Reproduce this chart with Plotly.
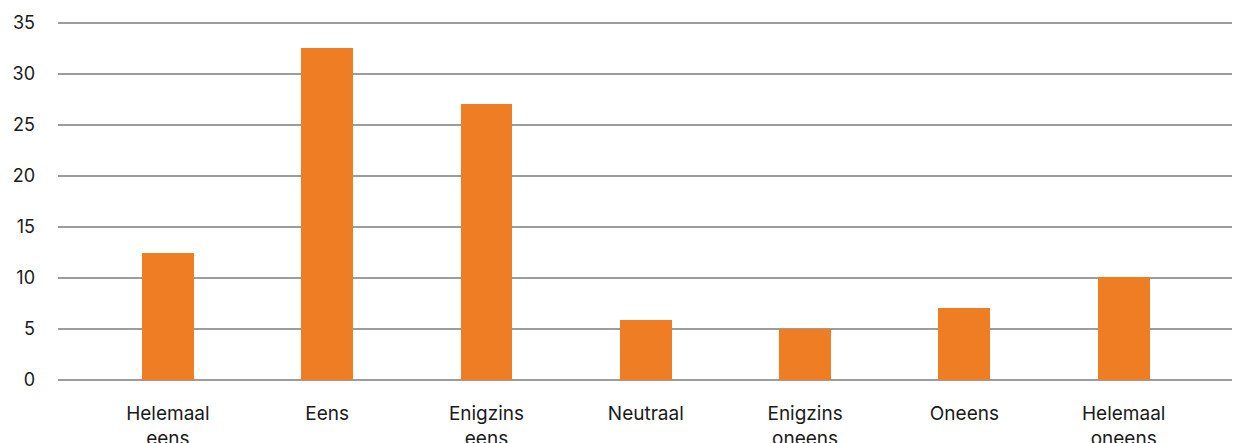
import plotly.graph_objects as go

categories = ["Helemaal<br>eens", "Eens", "Enigzins<br>eens", "Neutraal",
              "Enigzins<br>oneens", "Oneens", "Helemaal<br>oneens"]
values = [12.5, 32.6, 27.1, 5.9, 5.0, 7.1, 10.1]
y_ticks = [0, 5, 10, 15, 20, 25, 30, 35]

BAR_COLOR = "#EE7D23"
GRID_COLOR = "#9B9BA0"
TEXT_COLOR = "#1A1A1A"
FONT = "Inter, Roboto, Arial, sans-serif"

fig = go.Figure(
    go.Bar(
        x=list(range(len(categories))),
        y=values,
        width=0.326,
        marker=dict(color=BAR_COLOR, line=dict(width=0)),
        hoverinfo="skip",
    )
)

fig.update_layout(
    width=1240,
    height=443,
    margin=dict(l=58, r=8, t=20, b=63),
    paper_bgcolor="white",
    plot_bgcolor="white",
    showlegend=False,
    font=dict(family=FONT, size=19, color=TEXT_COLOR),
    bargap=0,
)

fig.update_xaxes(
    range=[-0.69, 6.68],
    tickmode="array",
    tickvals=list(range(len(categories))),
    ticktext=categories,
    showgrid=False,
    zeroline=False,
    showline=False,
    ticks="",
    automargin=False,
    ticklabelstandoff=20,
    tickfont=dict(family=FONT, size=19, color=TEXT_COLOR),
)

fig.update_yaxes(
    range=[0, 35.3],
    tickmode="array",
    tickvals=y_ticks,
    ticktext=[str(v) for v in y_ticks],
    showgrid=True,
    gridcolor=GRID_COLOR,
    gridwidth=1.5,
    zeroline=True,
    zerolinecolor=GRID_COLOR,
    zerolinewidth=1.5,
    showline=False,
    ticks="",
    automargin=False,
    ticklabelstandoff=22,
    tickfont=dict(family=FONT, size=18, color=TEXT_COLOR),
)

fig.write_html("out.html")
